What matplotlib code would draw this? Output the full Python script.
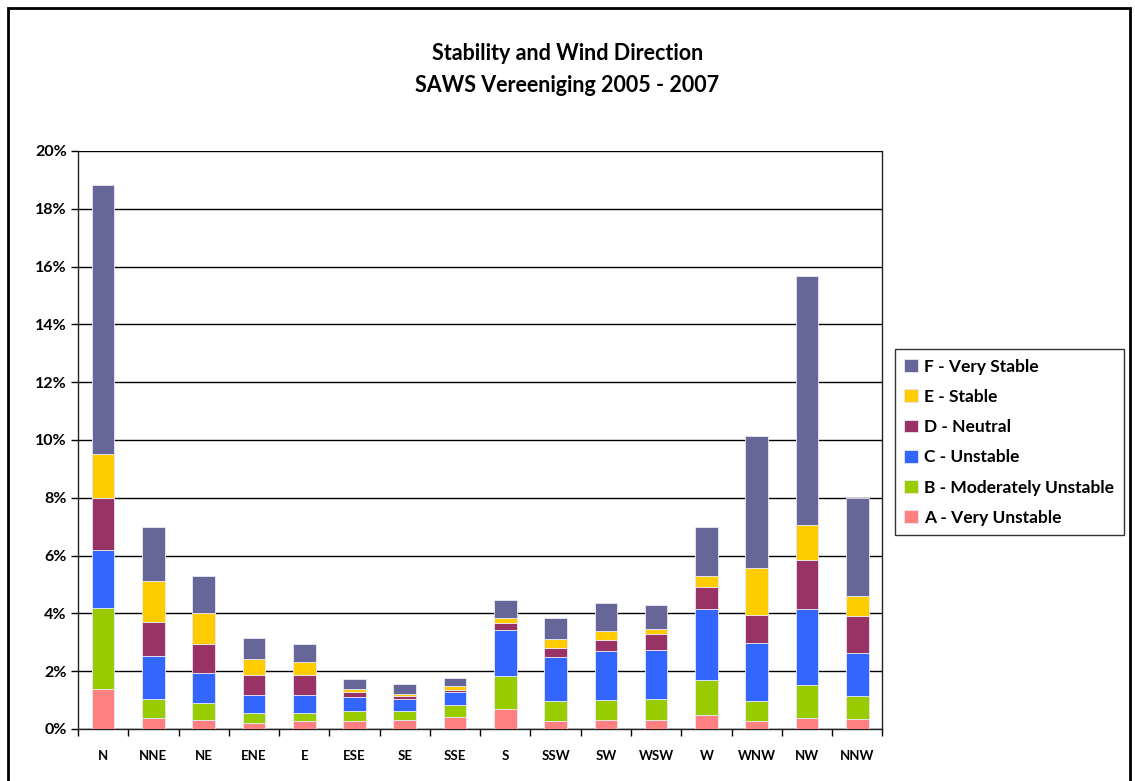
import matplotlib.pyplot as plt
import matplotlib.patches as mpatches
import numpy as np

# wind direction sectors
directions = ['N', 'NNE', 'NE', 'ENE', 'E', 'ESE', 'SE', 'SSE',
              'S', 'SSW', 'SW', 'WSW', 'W', 'WNW', 'NW', 'NNW']

# frequency (%) per stability class, per sector
class_a = [1.37, 0.38, 0.30, 0.20, 0.27, 0.29, 0.31, 0.40, 0.70, 0.27, 0.31, 0.31, 0.48, 0.27, 0.39, 0.36]
class_b = [2.82, 0.65, 0.60, 0.36, 0.29, 0.32, 0.30, 0.43, 1.12, 0.69, 0.69, 0.74, 1.21, 0.69, 1.13, 0.77]
class_c = [1.99, 1.51, 1.05, 0.61, 0.61, 0.50, 0.44, 0.44, 1.61, 1.52, 1.69, 1.68, 2.46, 2.03, 2.63, 1.51]
class_d = [1.80, 1.17, 0.98, 0.69, 0.69, 0.16, 0.09, 0.08, 0.25, 0.32, 0.38, 0.56, 0.77, 0.95, 1.68, 1.26]
class_e = [1.52, 1.42, 1.07, 0.55, 0.46, 0.11, 0.08, 0.13, 0.17, 0.31, 0.31, 0.17, 0.39, 1.64, 1.22, 0.69]
class_f = [9.31, 1.85, 1.30, 0.73, 0.61, 0.34, 0.35, 0.30, 0.61, 0.74, 0.99, 0.83, 1.69, 4.56, 8.62, 3.41]

labels = ['A - Very Unstable', 'B - Moderately Unstable', 'C - Unstable',
          'D - Neutral', 'E - Stable', 'F - Very Stable']
colors = ['#FF8080', '#99CC00', '#3366FF', '#993366', '#FFCC00', '#666699']

plt.rcParams['font.family'] = ['Lato', 'DejaVu Sans']

fig = plt.figure(figsize=(11.35, 7.81), dpi=100)
fig.patches.append(mpatches.Rectangle((0.007, -0.05), 0.989, 1.04, transform=fig.transFigure,
                                      fill=False, edgecolor='black', linewidth=2))

ax = fig.add_axes([0.0687, 0.0666, 0.7087, 0.7401])

x = np.arange(len(directions))
bottom = np.zeros(len(directions))
handles = []
for vals, lab, col in zip([class_a, class_b, class_c, class_d, class_e, class_f], labels, colors):
    b = ax.bar(x, vals, width=0.45, bottom=bottom, color=col, edgecolor='#e8e8f4',
               linewidth=0.6, label=lab, zorder=3)
    handles.append(b)
    bottom += np.array(vals)

ax.set_xlim(-0.5, len(directions) - 0.5)
ax.set_ylim(0, 20)
ax.set_yticks(np.arange(0, 21, 2))
ax.set_yticklabels([f'{v}%' for v in range(0, 21, 2)], fontsize=11.5, fontweight='bold')
ax.set_xticks(x)
ax.set_xticklabels(directions, fontsize=9.5, fontweight='bold')
ax.set_xticks(np.arange(-0.5, len(directions), 1), minor=True)
ax.tick_params(axis='x', which='major', length=0, pad=15)
ax.tick_params(axis='x', which='minor', length=5, width=1, direction='out')
ax.tick_params(axis='y', length=5, width=1, direction='out', pad=3)
ax.yaxis.grid(True, color='black', linewidth=1, zorder=0)
ax.set_axisbelow(True)
for s in ['left', 'bottom', 'right']:
    ax.spines[s].set_color('#222222')
    ax.spines[s].set_linewidth(1)
ax.spines['top'].set_visible(False)

fig.text(0.5, 0.932, 'Stability and Wind Direction', ha='center', va='center',
         fontsize=15.5, fontweight='bold')
fig.text(0.5, 0.891, 'SAWS Vereeniging 2005 - 2007', ha='center', va='center',
         fontsize=15.5, fontweight='bold')

leg = fig.legend(handles[::-1], labels[::-1], loc='upper left',
                 bbox_to_anchor=(0.7885, 0.553), borderaxespad=0, frameon=True,
                 fancybox=False, edgecolor='black', handlelength=0.75, handleheight=0.75,
                 handletextpad=0.4, labelspacing=0.82, borderpad=0.55,
                 prop={'weight': 'bold', 'size': 12.5})
leg.get_frame().set_linewidth(1)

fig.savefig('out.png', dpi=100)
